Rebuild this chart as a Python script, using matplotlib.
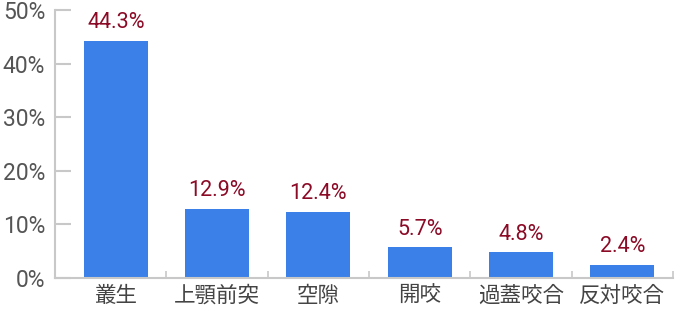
import matplotlib
matplotlib.use("Agg")
import matplotlib.pyplot as plt
from matplotlib.ticker import FixedLocator

categories = ["叢生", "上顎前突", "空隙", "開咬", "過蓋咬合", "反対咬合"]
values = [44.3, 12.9, 12.4, 5.7, 4.8, 2.4]
yticks = [0, 10, 20, 30, 40, 50]

plt.rcParams['font.family'] = ['Roboto', 'Noto Sans CJK JP', 'DejaVu Sans']

fig = plt.figure(figsize=(6.8, 3.35), dpi=100)
ax = fig.add_axes([55/680, (335-278)/335, (673-55)/680, (278-10)/335])

x = list(range(len(categories)))
ax.bar(x, values, width=0.63, color="#3a80e8", zorder=2)
for xi, v in zip(x, values):
    ax.annotate(f"{v}%", (xi, v), xytext=(0, 5.5), textcoords="offset points",
                ha="center", va="bottom", color="#8b0a26", fontsize=15.5)

ax.set_xlim(-0.6, len(categories) - 0.5)
ax.set_ylim(0, 50)
ax.set_yticks(yticks)
ax.set_yticklabels([f"{t}%" for t in yticks], fontsize=16.5, color="#555555")
ax.set_xticks(x)
ax.set_xticklabels(categories, fontsize=15.5, color="#444444",
                   family=['Noto Sans CJK JP', 'DejaVu Sans'])
ax.xaxis.set_minor_locator(FixedLocator([i + 0.5 for i in x]))

for s in ["top", "right"]:
    ax.spines[s].set_visible(False)
for s in ["left", "bottom"]:
    ax.spines[s].set_color("#c8c8c8")
    ax.spines[s].set_linewidth(1.5)

ax.tick_params(axis="y", direction="in", length=11.5, width=1.5, color="#c8c8c8", pad=7)
ax.tick_params(axis="x", which="major", length=0, pad=5)
ax.tick_params(axis="x", which="minor", direction="in", length=5, width=1.2, color="#c8c8c8")

fig.savefig("out.png", dpi=100)
